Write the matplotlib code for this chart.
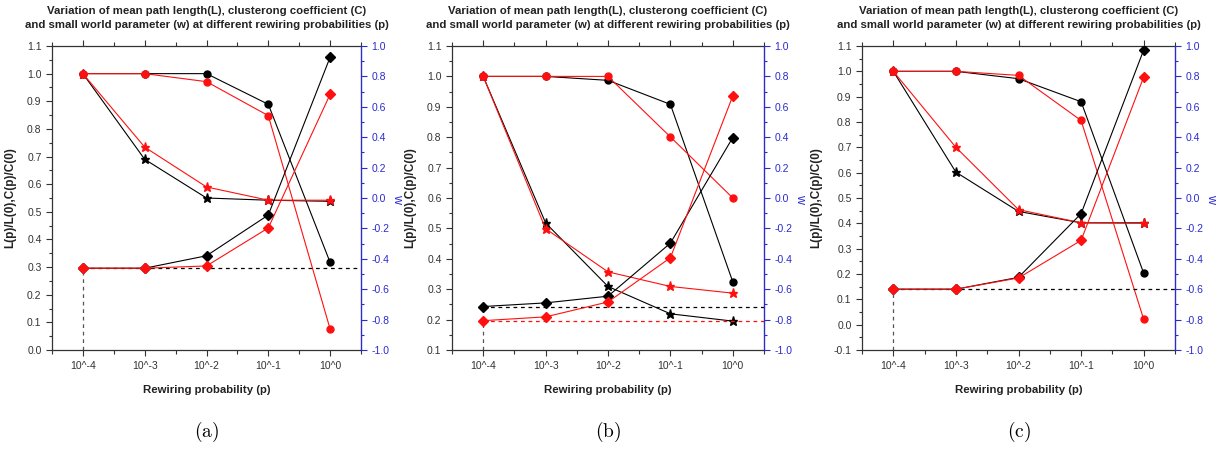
import matplotlib
matplotlib.use("Agg")
import matplotlib.pyplot as plt
from matplotlib.ticker import MultipleLocator, FixedLocator, FormatStrFormatter

plt.rcParams['font.family'] = ['Liberation Sans', 'DejaVu Sans']
plt.rcParams['mathtext.fontset'] = 'cm'

# ---------------- data ----------------
p_labels = ['10^-4', '10^-3', '10^-2', '10^-1', '10^0']

# panel (a)
a_circ_black = [1.0, 1.0, 1.0, 0.889, 0.317]
a_circ_red = [1.0, 1.0, 0.971, 0.848, 0.076]
a_star_black = [1.0, 0.690, 0.550, 0.542, 0.538]
a_star_red = [1.0, 0.734, 0.590, 0.542, 0.542]
a_w_black = [-0.462, -0.462, -0.380, -0.112, 0.926]
a_w_red = [-0.462, -0.462, -0.447, -0.197, 0.682]

# panel (b)
b_circ_black = [1.0, 1.0, 0.987, 0.908, 0.324]
b_circ_red = [1.0, 1.0, 1.0, 0.801, 0.600]
b_star_black = [1.0, 0.518, 0.309, 0.219, 0.195]
b_star_red = [1.0, 0.499, 0.357, 0.309, 0.287]
b_w_black = [-0.714, -0.690, -0.646, -0.297, 0.398]
b_w_red = [-0.807, -0.782, -0.684, -0.393, 0.672]

# panel (c)
c_circ_black = [1.0, 1.0, 0.971, 0.880, 0.203]
c_circ_red = [1.0, 1.0, 0.984, 0.806, 0.021]
c_star_black = [1.0, 0.602, 0.447, 0.402, 0.402]
c_star_red = [1.0, 0.700, 0.454, 0.402, 0.400]
c_w_black = [-0.600, -0.600, -0.522, -0.103, 0.974]
c_w_red = [-0.600, -0.600, -0.526, -0.279, 0.796]

panel_captions = ['(a)', '(b)', '(c)']
left_limits = [(0.0, 1.1), (0.1, 1.1), (-0.1, 1.1)]

title = ("Variation of mean path length(L), clusterong coefficient (C)\n"
         "and small world parameter (w) at different rewiring probabilities (p)")

BLACK = '#000000'
RED = '#ff1010'
BLUE = '#2b2bd0'
GRAY = '#333333'

fig = plt.figure(figsize=(12.25, 4.55), dpi=100)

axes_px = [(52, 361), (452, 764), (862, 1175)]
top_px, bot_px = 46, 350
W, H = 1225, 455

panels = [
    (a_circ_black, a_circ_red, a_star_black, a_star_red, a_w_black, a_w_red, False),
    (b_circ_black, b_circ_red, b_star_black, b_star_red, b_w_black, b_w_red, True),
    (c_circ_black, c_circ_red, c_star_black, c_star_red, c_w_black, c_w_red, False),
]

x = list(range(len(p_labels)))

for i, (cb, cr, sb, sr, wb, wr, two_dash) in enumerate(panels):
    l, r = axes_px[i]
    ax = fig.add_axes([l / W, (H - bot_px) / H, (r - l) / W, (bot_px - top_px) / H])
    ax2 = ax.twinx()
    ax.set_xlim(-0.5, 4.5)
    ax.set_ylim(*left_limits[i])
    ax2.set_ylim(-1.0, 1.0)

    # reference dashed lines
    ax2.plot([x[0], 4.5], [wb[0], wb[0]], ls=(0, (3, 3)), color=BLACK, lw=0.9, zorder=1)
    if two_dash:
        ax2.plot([x[0], 4.5], [wr[0], wr[0]], ls=(0, (3, 3)), color=RED, lw=0.9, zorder=1)
    ax2.plot([x[0], x[0]], [-1.0, min(wb[0], wr[0])], ls=(0, (3, 3)), color='#555555', lw=0.9, zorder=1)

    ms = 5
    ax.plot(x, cb, '-', color=BLACK, lw=0.8, marker='o', ms=ms, zorder=3)
    ax.plot(x, sb, '-', color=BLACK, lw=0.8, marker='*', ms=ms + 1.5, zorder=3)
    ax2.plot(x, wb, '-', color=BLACK, lw=0.8, marker='D', ms=ms, zorder=3)
    ax.plot(x, cr, '-', color=RED, lw=0.8, marker='o', ms=ms, zorder=4)
    ax.plot(x, sr, '-', color=RED, lw=0.8, marker='*', ms=ms + 1.5, zorder=4)
    ax2.plot(x, wr, '-', color=RED, lw=0.8, marker='D', ms=ms, zorder=4)

    # ticks
    ax.xaxis.set_major_locator(FixedLocator(x))
    ax.set_xticklabels(p_labels)
    ax.xaxis.set_minor_locator(FixedLocator([-0.5 + k for k in range(6)]))
    ax.yaxis.set_major_locator(MultipleLocator(0.1))
    ax.yaxis.set_minor_locator(MultipleLocator(0.05))
    ax2.yaxis.set_major_locator(MultipleLocator(0.2))
    ax2.yaxis.set_minor_locator(MultipleLocator(0.1))
    ax.yaxis.set_major_formatter(FormatStrFormatter('%.1f'))
    ax2.yaxis.set_major_formatter(FormatStrFormatter('%.1f'))

    ax.tick_params(axis='x', which='both', direction='out', top=True, labelsize=7.5,
                   colors=GRAY, length=4, width=0.8, pad=4)
    ax.tick_params(axis='x', which='minor', length=3)
    ax.tick_params(axis='y', which='major', direction='out', labelsize=7.5, colors=GRAY, length=4, width=0.8)
    ax.tick_params(axis='y', which='minor', direction='out', length=2.5, width=0.8, colors=GRAY)
    ax2.tick_params(axis='y', which='major', direction='out', labelsize=7.5, colors=BLUE, length=4, width=0.8)
    ax2.tick_params(axis='y', which='minor', direction='out', length=2.5, width=0.8, colors=BLUE)

    for s in ['left', 'bottom', 'top']:
        ax.spines[s].set_color(GRAY)
        ax.spines[s].set_linewidth(0.9)
    ax2.spines['right'].set_color(BLUE)
    ax2.spines['right'].set_linewidth(0.9)
    for s in ['left', 'bottom', 'top']:
        ax2.spines[s].set_visible(False)

    ax.set_title(title, fontsize=8.2, fontweight='bold', color='#222222', pad=13, linespacing=1.45)
    ax.set_xlabel('Rewiring probability (p)', fontsize=8.2, fontweight='bold', color='#222222', labelpad=10)
    ax.set_ylabel('L(p)/L(0),C(p)/C(0)', fontsize=8.5, fontweight='bold', color='#222222', labelpad=8)
    ax2.set_ylabel('w', fontsize=9, color=BLUE, rotation=270, labelpad=10)

    cx = ((l + r) / 2) / W
    fig.text(cx, (H - 432) / H, r'$\mathrm{' + panel_captions[i] + '}$', ha='center', va='center',
             fontsize=14, color='black')

fig.savefig('out.png', dpi=100)
